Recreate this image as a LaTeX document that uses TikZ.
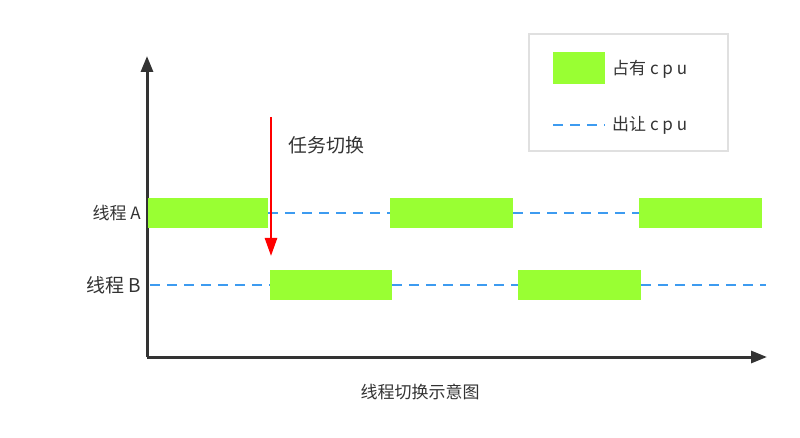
\documentclass[tikz,border=0pt]{standalone}
\usepackage{fontspec}
\setmainfont{Noto Sans CJK SC}
\usetikzlibrary{arrows.meta}
\definecolor{bar}{HTML}{99FF33}
\definecolor{dsh}{HTML}{3D9BF0}
\definecolor{axc}{HTML}{333333}
\begin{document}
\begin{tikzpicture}[x=1pt,y=-1pt,
  busy/.style={fill=bar,draw=none},
  idle/.style={draw=dsh,line width=2.4pt,dash pattern=on 10pt off 7pt},
  axis/.style={draw=axc,line width=3pt,-{Triangle[length=16pt,width=12pt]}},
  lbl/.style={text=axc,font=\fontsize{17}{20}\selectfont,inner sep=0pt}]
\useasboundingbox (0,0) rectangle (800,438);
\coordinate (o) at (147,357);
\coordinate (yt) at (147,56);
\coordinate (xt) at (767,357);
\draw[axis] (o) -- (yt);
\draw[axis] (o) -- (xt);
% thread A
\coordinate (a0) at (148,213); \coordinate (a1) at (268,213);
\coordinate (a2) at (390,213); \coordinate (a3) at (513,213);
\coordinate (a4) at (639,213); \coordinate (a5) at (762,213);
\draw[idle] (a1) -- (a2); \draw[idle] (a3) -- (a4);
\fill[busy] (148,198) rectangle (268,228);
\fill[busy] (390,198) rectangle (513,228);
\fill[busy] (639,198) rectangle (762,228);
% thread B
\coordinate (b0) at (150,285); \coordinate (b1) at (270,285);
\coordinate (b2) at (392,285); \coordinate (b3) at (518,285);
\coordinate (b4) at (641,285); \coordinate (b5) at (766,285);
\draw[idle] (b0) -- (b1); \draw[idle] (b2) -- (b3); \draw[idle] (b4) -- (b5);
\fill[busy] (270,270) rectangle (392,300);
\fill[busy] (518,270) rectangle (641,300);
\node[lbl,anchor=east] (la) at (141,213) {线程 A};
\node[lbl,anchor=east,font=\fontsize{19}{22}\selectfont] (lb) at (141,285) {线程 B};
% switch arrow
\coordinate (s0) at (271,117); \coordinate (s1) at (271,256);
\draw[red,line width=2.6pt,-{Triangle[length=18pt,width=12pt]}] (s0) -- (s1);
\node[lbl,anchor=west,font=\fontsize{19}{22}\selectfont] (sw) at (288,145) {任务切换};
% legend
\node[draw=black!12,line width=2pt,minimum width=199pt,minimum height=117pt,anchor=north west] (lg) at (528,33) {};
\fill[busy] (553,52) rectangle (605,84);
\node[lbl,anchor=west] (l1) at (612,69) {占有 c p u};
\coordinate (d0) at (553,125); \coordinate (d1) at (605,125);
\draw[idle] (d0) -- (d1);
\node[lbl,anchor=west] (l2) at (612,125) {出让 c p u};
\node[lbl] (cap) at (420,392) {线程切换示意图};
\end{tikzpicture}
\end{document}
